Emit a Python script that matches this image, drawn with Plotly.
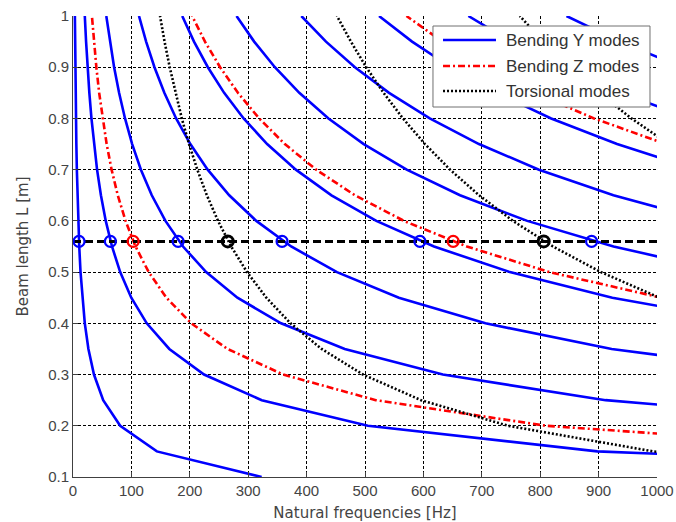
import plotly.graph_objects as go

# Beam length samples [m]
L = [0.10, 0.15, 0.20, 0.25, 0.30, 0.35, 0.40, 0.45, 0.50, 0.55,
     0.60, 0.65, 0.70, 0.75, 0.80, 0.85, 0.90, 0.95, 1.00]

# Bending Y modes: natural frequencies [Hz] (start index into L, values)
bend_y = [
    (0,  [323, 143.6, 80.8, 51.7, 35.9, 26.4, 20.2, 15.9, 12.9, 10.7, 8.97, 7.65, 6.59, 5.74, 5.05, 4.47, 3.99, 3.58, 3.23]),
    (0,  [2020, 897.8, 505, 323.2, 224.4, 164.9, 126.3, 99.8, 80.8, 66.8, 56.1, 47.8, 41.2, 35.9, 31.6, 28.0, 24.9, 22.4, 20.2]),
    (2,  [1425, 912, 633.3, 465.3, 356.3, 281.5, 228, 188.4, 158.3, 134.9, 116.3, 101.3, 89.1, 78.9, 70.4, 63.2, 57]),
    (4,  [1255.6, 922.4, 706.3, 558, 452, 373.6, 313.9, 267.5, 230.6, 200.9, 176.6, 156.4, 139.5, 125.2, 113]),
    (6,  [1168.8, 923.5, 748, 618.2, 519.4, 442.6, 381.6, 332.4, 292.2, 258.8, 230.9, 207.2, 187]),
    (8,  [1120, 925.6, 777.8, 662.7, 571.4, 497.8, 437.5, 387.5, 345.7, 310.2, 280]),
    (10, [1086, 925.4, 797.9, 695.1, 610.9, 541.2, 482.7, 433.2, 391]),
    (12, [1069.4, 931.6, 818.8, 725.3, 646.9, 580.6, 524]),
    (14, [1057.8, 937, 835.8, 750.1, 677]),
    (16, [1043.2, 936.3, 845]),
]

# Bending Z modes
bend_z = [
    (1,  [1440, 810, 518.4, 360, 264.5, 202.5, 160, 129.6, 107.1, 90, 76.7, 66.1, 57.6, 50.6, 44.8, 40, 35.9, 32.4]),
    (7,  [1007.4, 816, 674.4, 566.7, 482.8, 416.3, 362.7, 318.8, 282.4, 251.9, 226, 204]),
    (13, [1015.1, 892.2, 790.3, 704.9, 632.6, 571]),
]

# Torsional modes
torsion = [
    (0,  [1490, 993.3, 745, 596, 496.7, 425.7, 372.5, 331.1, 298, 270.9, 248.3, 229.2, 212.9, 198.7, 186.3, 175.3, 165.6, 156.8, 149]),
    (6,  [1130, 1004.4, 904, 821.8, 753.3, 695.4, 645.7, 602.7, 565, 531.8, 502.2, 475.8, 452]),
    (13, [1020, 956.3, 900, 850, 805.3, 765]),
]

# Selected beam length and the mode frequencies there
L_sel = 0.56
sel_y = [10.3, 64, 180, 358, 594, 888]
sel_z = [103, 651]
sel_t = [265, 806]

legend_names = ["Bending Y modes", "Bending Z modes", "Torsional modes"]
BLUE, RED, BLACK = "#0000FF", "#FF0000", "#000000"
DASH_Z, DASH_T = "7px,3px,2px,3px", "2px,2px"

fig = go.Figure()

def add_family(family, name, color, dash):
    for start, freqs in family:
        fig.add_trace(go.Scatter(
            x=freqs, y=L[start:start + len(freqs)], mode="lines",
            line=dict(color=color, width=2.6, dash=dash),
            name=name, showlegend=False, hoverinfo="skip"))

add_family(bend_y, legend_names[0], BLUE, "solid")
add_family(bend_z, legend_names[1], RED, DASH_Z)
add_family(torsion, legend_names[2], BLACK, DASH_T)

fig.add_trace(go.Scatter(
    x=[0, 1000], y=[L_sel, L_sel], mode="lines",
    line=dict(color="black", width=3, dash="8px,4px"),
    showlegend=False, hoverinfo="skip"))

for xs, col, lw in [(sel_y, BLUE, 2.2), (sel_z, RED, 2.2), (sel_t, BLACK, 3)]:
    fig.add_trace(go.Scatter(
        x=xs, y=[L_sel] * len(xs), mode="markers",
        marker=dict(symbol="circle-open", size=11, color=col, line=dict(width=lw, color=col)),
        showlegend=False, hoverinfo="skip", cliponaxis=False))

# Legend box drawn in plot-area (paper) coordinates
box = dict(x0=0.6164, x1=0.988, y0=0.8026, y1=0.9783)
rows_y = [0.9479, 0.8915, 0.8373]
line_x0, line_x1, text_x = 0.6336, 0.7243, 0.738
shapes = [dict(type="rect", xref="paper", yref="paper", layer="above",
               fillcolor="white", line=dict(color="#707070", width=1), **box)]
annotations = []
for name, col, dash, yy in zip(legend_names, [BLUE, RED, BLACK], ["solid", DASH_Z, DASH_T], rows_y):
    shapes.append(dict(type="line", xref="paper", yref="paper", layer="above",
                       x0=line_x0, x1=line_x1, y0=yy, y1=yy,
                       line=dict(color=col, width=2.6, dash=dash)))
    annotations.append(dict(text=name, xref="paper", yref="paper", x=text_x, y=yy,
                            xanchor="left", yanchor="middle", showarrow=False,
                            font=dict(family="Liberation Sans, Arial, sans-serif", size=17, color="#333333")))

tick_font = dict(family="Liberation Sans, Arial, sans-serif", size=15, color="#444444")
title_font = dict(family="DejaVu Sans, sans-serif", size=15, color="#444444")

axis_common = dict(
    showgrid=True, gridcolor="black", gridwidth=1, griddash="3px,2px",
    showline=True, linecolor="#404040", linewidth=1,
    ticks="inside", ticklen=5, tickcolor="#404040",
    zeroline=False, automargin=False,
    tickfont=tick_font,
)

fig.update_layout(
    width=676, height=522,
    margin=dict(l=73, r=19, t=16, b=45),
    paper_bgcolor="white", plot_bgcolor="white",
    xaxis=dict(range=[0, 1000], dtick=100, tick0=0,
               title=dict(text="Natural frequencies [Hz]", standoff=9, font=title_font),
               **axis_common),
    yaxis=dict(range=[0.1, 1.0], dtick=0.1, tick0=0.1,
               title=dict(text="Beam length L [m]", standoff=15, font=title_font),
               **axis_common),
    shapes=shapes,
    annotations=annotations,
    showlegend=False,
)

fig.write_html("out.html", config={"displayModeBar": False},
               post_script="document.body.style.margin='0';document.body.style.overflow='hidden';")
